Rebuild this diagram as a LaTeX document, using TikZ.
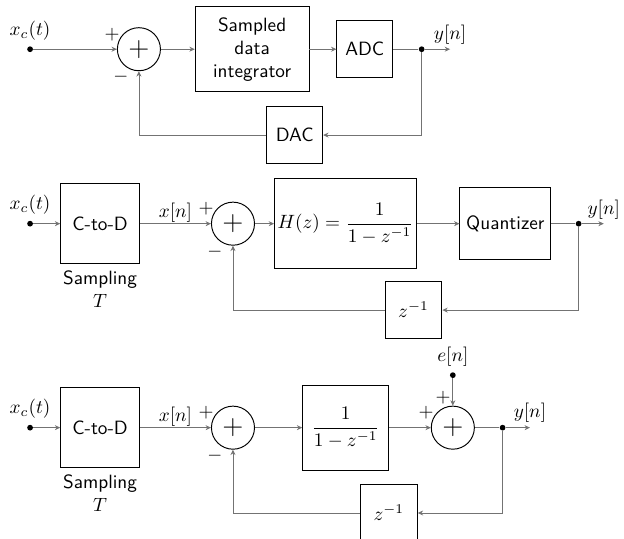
\documentclass[tikz,border=0pt]{standalone}
\usepackage{amsmath}
\usepackage{tikz}
\usetikzlibrary{arrows.meta}

\begin{document}
\begin{tikzpicture}[>={Stealth[length=2.8pt, width=2.6pt]}, line width=0.4pt,
        block/.style={draw, line width=0.5pt, font=\sffamily, align=center, inner sep=1pt},
        sumnode/.style={draw, circle, line width=0.5pt, minimum size=22.4pt, inner sep=0pt},
        jdot/.style={circle, fill=black, minimum size=3pt, inner sep=0pt},
        sig/.style={draw=black!55, ->},
        wire/.style={draw=black!55}]
        \useasboundingbox (0,0) rectangle (11.41,-9.85);

        % Nodes: sampled data loop
        \node[jdot] (xcA) at (0.55, -0.90) {};
        \node[anchor=south, yshift=-0.5pt] (xcAl) at (xcA.north) {$x_c(t)$};
        \node[sumnode] (sumA) at (2.54, -0.90) {\Large$+$};
        \node (plusA) at ([shift={(-0.49, 0.27)}]sumA.center) {$+$};
        \node (minusA) at ([shift={(-0.33, -0.51)}]sumA.center) {$-$};
        \node[block, minimum width=2.08cm, minimum height=1.55cm] (integA) at (4.61, -0.90) {Sampled\\data\\integrator};
        \node[block, minimum width=1.02cm, minimum height=1.04cm] (adcA) at (6.67, -0.90) {ADC};
        \node[jdot] (jA) at (7.71, -0.90) {};
        \coordinate (yA) at (8.23, -0.90);
        \node[anchor=south, yshift=-1pt] (ynA) at (yA) {$y[n]$};
        \node[block, minimum width=1.02cm, minimum height=1.04cm] (dacA) at (5.39, -2.47) {DAC};

        % Nodes: discrete time model
        \node[jdot] (xcB) at (0.55, -4.09) {};
        \node[anchor=south, yshift=-0.5pt] (xcBl) at (xcB.north) {$x_c(t)$};
        \node[block, minimum width=1.44cm, minimum height=1.46cm] (ctodB) at (1.83, -4.09) {C-to-D};
        \node[anchor=north, align=center] (sampB) at (ctodB.south) {\sffamily Sampling\\$T$};
        \node[sumnode] (sumB) at (4.26, -4.09) {\Large$+$};
        \node (plusB) at ([shift={(-0.49, 0.27)}]sumB.center) {$+$};
        \node (minusB) at ([shift={(-0.33, -0.51)}]sumB.center) {$-$};
        \node[block, minimum width=2.60cm, minimum height=1.65cm, inner sep=0pt] (hB) at (6.32, -4.09) {$H(z) = \dfrac{1}{1-z^{-1}}$};
        \node[block, minimum width=1.66cm, minimum height=1.32cm] (quantB) at (9.24, -4.09) {Quantizer};
        \node[jdot] (jB) at (10.58, -4.09) {};
        \coordinate (yB) at (11.04, -4.09);
        \node[anchor=south, yshift=-1pt] (ynB) at (yB) {$y[n]$};
        \node[block, minimum width=1.04cm, minimum height=1.04cm] (zB) at (7.56, -5.67) {$z^{-1}$};

        % Nodes: linear noise model
        \node[jdot] (xcC) at (0.55, -7.82) {};
        \node[anchor=south, yshift=-0.5pt] (xcCl) at (xcC.north) {$x_c(t)$};
        \node[block, minimum width=1.44cm, minimum height=1.46cm] (ctodC) at (1.83, -7.82) {C-to-D};
        \node[anchor=north, align=center] (sampC) at (ctodC.south) {\sffamily Sampling\\$T$};
        \node[sumnode] (sumC) at (4.26, -7.82) {\Large$+$};
        \node (plusC) at ([shift={(-0.49, 0.27)}]sumC.center) {$+$};
        \node (minusC) at ([shift={(-0.33, -0.51)}]sumC.center) {$-$};
        \node[block, minimum width=1.57cm, minimum height=1.55cm] (hC) at (6.32, -7.82) {$\dfrac{1}{1-z^{-1}}$};
        \node[sumnode] (sumD) at (8.28, -7.82) {\Large$+$};
        \node (plusD) at ([shift={(-0.49, 0.28)}]sumD.center) {$+$};
        \node (plusE) at ([shift={(-0.18, 0.55)}]sumD.center) {$+$};
        \node[jdot] (eC) at (8.28, -6.86) {};
        \node[anchor=south, yshift=-0.5pt] (enC) at (eC.north) {$e[n]$};
        \node[jdot] (jC) at (9.19, -7.82) {};
        \coordinate (yC) at (9.69, -7.82);
        \node[anchor=south, yshift=-1pt] (ynC) at (yC) {$y[n]$};
        \node[block, minimum width=1.04cm, minimum height=1.04cm] (zC) at (7.11, -9.38) {$z^{-1}$};

        % Signal paths
        \draw[sig] (xcA) -- (sumA);
        \draw[sig] (sumA) -- (integA);
        \draw[sig] (integA) -- (adcA);
        \draw[wire] (adcA) -- (jA);
        \draw[sig] (jA) -- (yA);
        \draw[sig] (jA) |- (dacA);
        \draw[sig] (dacA) -| (sumA);

        \draw[sig] (xcB) -- (ctodB);
        \draw[sig] (ctodB) -- (sumB) node[midway, above, inner sep=0.5pt] (xnB) {$x[n]$};
        \draw[sig] (sumB) -- (hB);
        \draw[sig] (hB) -- (quantB);
        \draw[wire] (quantB) -- (jB);
        \draw[sig] (jB) -- (yB);
        \draw[sig] (jB) |- (zB);
        \draw[sig] (zB) -| (sumB);

        \draw[sig] (xcC) -- (ctodC);
        \draw[sig] (ctodC) -- (sumC) node[midway, above, inner sep=0.5pt] (xnC) {$x[n]$};
        \draw[sig] (sumC) -- (hC);
        \draw[sig] (hC) -- (sumD);
        \draw[sig] (eC) -- (sumD);
        \draw[wire] (sumD) -- (jC);
        \draw[sig] (jC) -- (yC);
        \draw[sig] (jC) |- (zC);
        \draw[sig] (zC) -| (sumC);
    \end{tikzpicture}
\end{document}
